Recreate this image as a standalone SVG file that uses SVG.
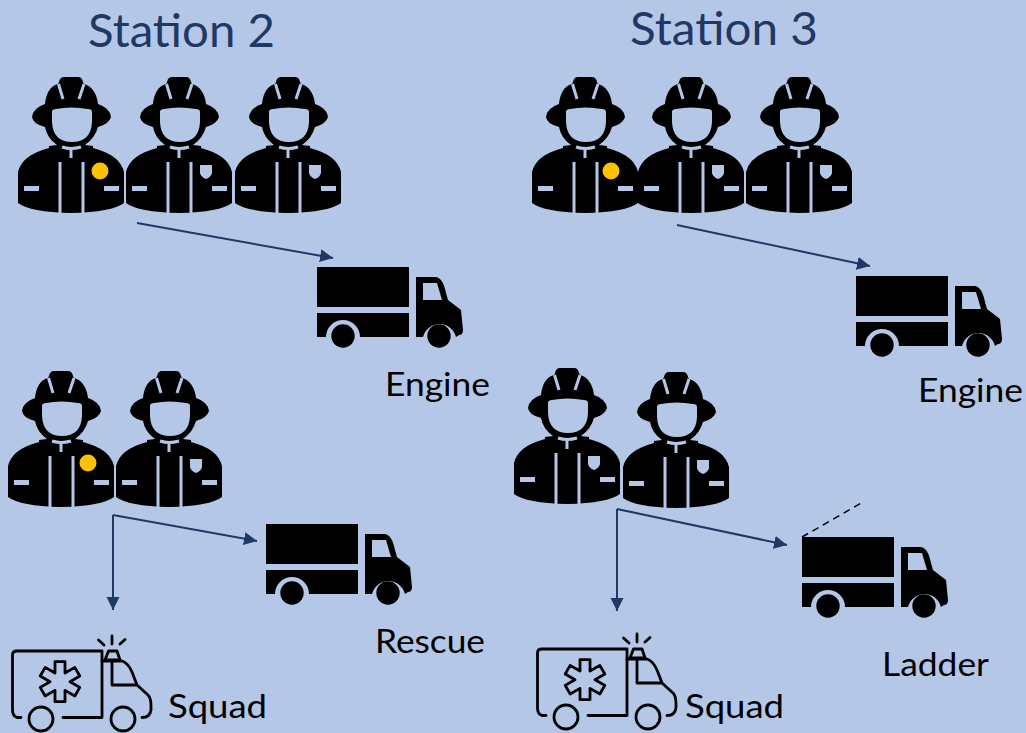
<svg xmlns="http://www.w3.org/2000/svg" width="1026" height="733" viewBox="0 0 1026 733">
<style>
text{font-family:Lato,"Open Sans","Liberation Sans",sans-serif}
.title{font-size:46px;fill:#1F3864}
.label{font-size:33px;fill:#000}
.conn{fill:none;stroke:#1F3864;stroke-width:2}
.dash{fill:none;stroke:#000;stroke-width:1.500;stroke-dasharray:7 5}
.bg{fill:#B4C7E7}
.cut{fill:none;stroke:#B4C7E7;stroke-width:3}
.amb{fill:none;stroke:#000;stroke-width:2.800;stroke-linecap:round;stroke-linejoin:round}
</style>
<defs>
<marker id="arrow" markerWidth="14" markerHeight="14" refX="13" refY="6.500" orient="auto" markerUnits="userSpaceOnUse"><path d="M0 0L13 6.500L0 13Z" fill="#1F3864"/></marker>
<symbol id="firefighter" overflow="visible" width="1026" height="733" viewBox="0 0 1026 733">
<path d="M64 77H78Q82 77 83 82L84 84C92 86 97 94 98 104Q110 108 111 117Q109 124 98 127Q95 138 85 145L93 146L93 148Q120 155 124 172L124 203Q112 212 71 213Q30 212 18 203L18 172Q22 155 49 148L49 146L57 145Q47 138 45 127Q33 124 32 117Q33 108 45 104C46 94 50 86 58 84L59 82Q60 77 64 77Z" fill="#000"/>
<path class="bg" d="M52 111Q53 109 56 109Q71 106 88 109Q92 109 92 112L92 122Q91 142 72 142Q53 142 52 122Z"/>
<path class="cut" d="M58.500 84L63 99M84 84L79 99"/>
<path class="cut" d="M62 147Q71 150 81 147M71 148L71 158M60 162L60 213M83 162L83 213"/>
<rect class="bg" x="24" y="186" width="15" height="5"/>
<rect class="bg" x="104" y="186" width="15" height="5"/>
</symbol>
<path id="badge" class="bg" d="M92 165L104 165L104 173Q103 177 98 179Q93 177 92 173Z"/>
<symbol id="truck" overflow="visible" width="1026" height="733" viewBox="0 0 1026 733">
<rect x="317" y="267" width="92" height="40"/>
<path d="M317 313H409V337H360A17 17 0 0 0 326 337H317Z"/>
<path d="M416 277H436Q443 278 446 293L448 300L461 310L463 330Q463 335 459 335L456 337A17 17 0 0 0 423 337H416Z"/>
<path class="bg" d="M423 283H437L442 300H423Z"/>
<circle cx="343" cy="336" r="11.700"/>
<circle cx="439" cy="336" r="11.700"/>
</symbol>
<symbol id="ambulance" overflow="visible" width="1026" height="733" viewBox="0 0 1026 733">
<path class="amb" d="M21 717.500H17Q12.500 716 12.500 710V655Q12.500 651 17 651H102V717.500H63"/>
<circle class="amb" cx="41" cy="719" r="12"/>
<circle class="amb" cx="123" cy="719" r="12"/>
<path class="amb" d="M102 661H122Q128 663 132 672L137 685H112V661M137 685L148 695Q151 698 151 706V710Q150 717.500 142 717.500"/>
<path class="amb" d="M105 660L108.500 651H117L120 660Z"/>
<path class="amb" d="M112 636V644M98.500 640L104 645M125 639.500L120 644"/>
<path class="amb" transform="translate(60 681.700)" d="M-5-20H5V-8.660L14.820-14.330 19.820-5.670 10 0 19.820 5.670 14.820 14.330 5 8.660V20H-5V8.660L-14.820 14.330-19.820 5.670-10 0-19.820-5.670-14.820-14.330-5-8.660Z"/>
</symbol>
</defs>
<rect id="background" width="1026" height="733" fill="#B4C7E7"/>
<g id="station-2-title"><text class="title" x="88" y="47" textLength="187" lengthAdjust="spacingAndGlyphs">Station 2</text></g>
<g id="station-3-title"><text class="title" x="630" y="45" textLength="188" lengthAdjust="spacingAndGlyphs">Station 3</text></g>
<g id="s2-crew-a1"><use href="#firefighter"/><circle cx="100" cy="171" r="8.500" fill="#FFC000"/></g>
<g id="s2-crew-a2" transform="translate(108 0)"><use href="#firefighter"/><use href="#badge"/></g>
<g id="s2-crew-a3" transform="translate(217 0)"><use href="#firefighter"/><use href="#badge"/></g>
<g id="s3-crew-a1" transform="translate(514 0)"><use href="#firefighter"/><circle cx="97" cy="171" r="8.500" fill="#FFC000"/></g>
<g id="s3-crew-a2" transform="translate(620 0)"><use href="#firefighter"/><use href="#badge"/></g>
<g id="s3-crew-a3" transform="translate(728 0)"><use href="#firefighter"/><use href="#badge"/></g>
<g id="s2-crew-b1" transform="translate(-10 294)"><use href="#firefighter"/><circle cx="98" cy="169" r="8.500" fill="#FFC000"/></g>
<g id="s2-crew-b2" transform="translate(98 294)"><use href="#firefighter"/><use href="#badge"/></g>
<g id="s3-crew-b1" transform="translate(496 291)"><use href="#firefighter"/><use href="#badge"/></g>
<g id="s3-crew-b2" transform="translate(605 295)"><use href="#firefighter"/><use href="#badge"/></g>
<g id="s2-engine"><use href="#truck"/><text class="label" x="385" y="396" textLength="105" lengthAdjust="spacingAndGlyphs">Engine</text></g>
<g id="s2-rescue"><use href="#truck" transform="translate(-51 257)"/><text class="label" x="375" y="653" textLength="110" lengthAdjust="spacingAndGlyphs">Rescue</text></g>
<g id="s3-engine"><use href="#truck" transform="translate(539 9)"/><text class="label" x="918" y="402" textLength="105" lengthAdjust="spacingAndGlyphs">Engine</text></g>
<g id="s3-ladder"><use href="#truck" transform="translate(485 270)"/><text class="label" x="882" y="676" textLength="107" lengthAdjust="spacingAndGlyphs">Ladder</text></g>
<g id="s2-squad"><use href="#ambulance"/><text class="label" x="168" y="718" textLength="99" lengthAdjust="spacingAndGlyphs">Squad</text></g>
<g id="s3-squad"><use href="#ambulance" transform="translate(525 -2)"/><text class="label" x="685" y="718" textLength="99" lengthAdjust="spacingAndGlyphs">Squad</text></g>
<g id="connectors">
<path class="conn" marker-end="url(#arrow)" d="M137 223L333 258"/>
<path class="conn" marker-end="url(#arrow)" d="M677 225L870 266"/>
<path class="conn" marker-end="url(#arrow)" d="M113 515V610"/>
<path class="conn" marker-end="url(#arrow)" d="M113 515L257 541"/>
<path class="conn" marker-end="url(#arrow)" d="M617 509V611"/>
<path class="conn" marker-end="url(#arrow)" d="M617 509L787 545"/>
<path class="dash" d="M802 537L863 502"/>
</g>
</svg>
